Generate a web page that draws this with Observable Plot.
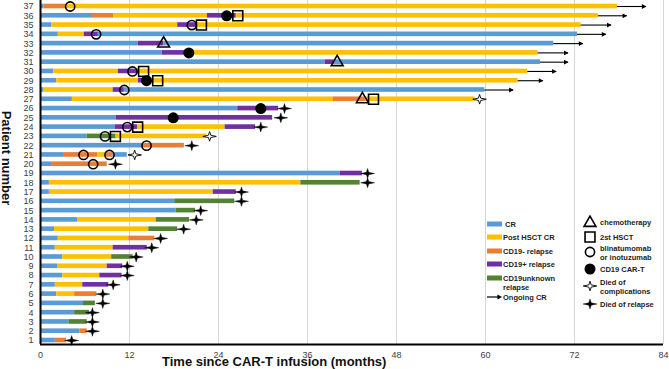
<!DOCTYPE html>
<html>
<head>
<meta charset="utf-8">
<script src="https://cdn.jsdelivr.net/npm/d3@7"></script>
<script src="https://cdn.jsdelivr.net/npm/@observablehq/plot@0.6"></script>
<style>
  body { margin: 0; background: #fff; font-family: "Liberation Sans", Arial, sans-serif; }
  #wrap { position: relative; width: 669px; height: 369px; overflow: hidden; }
  #wrap svg { position: absolute; left: 0; top: 0; }
</style>
</head>
<body>
<div id="wrap"></div>
<script>
// Disease status categories and their colours
const statuses = ["CR", "Post HSCT CR", "CD19- relapse", "CD19+ relapse", "CD19unknown relapse"];
const statusColors = ["#5b9bd5", "#ffc000", "#ed7d31", "#7030a0", "#548235"];
const patients = d3.range(1, 38);
const xTicks = [0, 12, 24, 36, 48, 60, 72, 84];

// [patient, status, start month, end month]
const phases = [
  [37,"CR",0,0.5],[37,"CD19- relapse",0.5,3.4],[37,"Post HSCT CR",3.4,77.8],
  [36,"CR",0,7.0],[36,"CD19- relapse",7.0,9.9],[36,"Post HSCT CR",9.9,22.5],[36,"CD19+ relapse",22.5,26.4],[36,"Post HSCT CR",26.4,75.2],
  [35,"CR",0,1.5],[35,"Post HSCT CR",1.5,18.5],[35,"CD19+ relapse",18.5,21.2],[35,"Post HSCT CR",21.2,72.9],
  [34,"CR",0,2.4],[34,"Post HSCT CR",2.4,5.9],[34,"CD19+ relapse",5.9,7.8],[34,"CR",7.8,72.4],
  [33,"CR",0,13.2],[33,"CD19+ relapse",13.2,16.6],[33,"CR",16.6,69.2],
  [32,"CR",0,16.4],[32,"CD19+ relapse",16.4,19.8],[32,"Post HSCT CR",19.8,67.1],
  [31,"CR",0,38.4],[31,"CD19+ relapse",38.4,39.6],[31,"CR",39.6,67.4],
  [30,"CR",0,1.8],[30,"Post HSCT CR",1.8,10.5],[30,"CD19+ relapse",10.5,13.2],[30,"Post HSCT CR",13.2,65.7],
  [29,"CR",0,2.2],[29,"Post HSCT CR",2.2,13.2],[29,"CD19+ relapse",13.2,14.3],[29,"Post HSCT CR",14.3,64.4],
  [28,"CR",0,0.4],[28,"Post HSCT CR",0.4,9.8],[28,"CD19+ relapse",9.8,11.3],[28,"CR",11.3,59.9],
  [27,"CR",0,4.3],[27,"Post HSCT CR",4.3,39.5],[27,"CD19- relapse",39.5,43.8],[27,"Post HSCT CR",43.8,58.6],
  [26,"CR",0,26.6],[26,"CD19+ relapse",26.6,32.1],
  [25,"CR",0,10.2],[25,"CD19+ relapse",10.2,31.3],
  [24,"CR",0,10.1],[24,"CD19+ relapse",10.1,13.1],[24,"Post HSCT CR",13.1,24.9],[24,"CD19+ relapse",24.9,29.0],
  [23,"CR",0,6.3],[23,"CD19unknown relapse",6.3,10.2],[23,"Post HSCT CR",10.2,22.4],
  [22,"CR",0,13.75],[22,"CD19- relapse",13.75,19.4],
  [21,"CR",0,3.1],[21,"CD19- relapse",3.1,7.7],[21,"Post HSCT CR",7.7,8.8],[21,"CD19- relapse",8.8,9.8],[21,"CR",9.8,11.7],
  [20,"CR",0,1.6],[20,"CD19- relapse",1.6,9.0],
  [19,"CR",0,40.4],[19,"CD19+ relapse",40.4,43.4],
  [18,"CR",0,1.2],[18,"Post HSCT CR",1.2,35.1],[18,"CD19unknown relapse",35.1,43.1],
  [17,"CR",0,1.2],[17,"Post HSCT CR",1.2,23.3],[17,"CD19+ relapse",23.3,26.4],
  [16,"CR",0,18.1],[16,"CD19unknown relapse",18.1,26.2],
  [15,"CR",0,18.3],[15,"CD19unknown relapse",18.3,20.9],
  [14,"CR",0,5.0],[14,"Post HSCT CR",5.0,15.6],[14,"CD19unknown relapse",15.6,20.1],
  [13,"CR",0,1.9],[13,"Post HSCT CR",1.9,14.6],[13,"CD19unknown relapse",14.6,18.5],
  [12,"CR",0,2.4],[12,"Post HSCT CR",2.4,11.9],[12,"CD19- relapse",11.9,15.4],
  [11,"CR",0,2.0],[11,"Post HSCT CR",2.0,9.8],[11,"CD19+ relapse",9.8,14.4],
  [10,"CR",0,3.0],[10,"Post HSCT CR",3.0,9.6],[10,"CD19unknown relapse",9.6,12.5],
  [9,"CR",0,2.3],[9,"Post HSCT CR",2.3,9.0],[9,"CD19+ relapse",9.0,11.1],
  [8,"CR",0,3.0],[8,"Post HSCT CR",3.0,8.0],[8,"CD19+ relapse",8.0,11.0],
  [7,"CR",0,2.0],[7,"Post HSCT CR",2.0,5.7],[7,"CD19+ relapse",5.7,9.2],
  [6,"CR",0,2.2],[6,"Post HSCT CR",2.2,4.6],[6,"CD19- relapse",4.6,7.6],
  [5,"CR",0,5.8],[5,"CD19unknown relapse",5.8,7.4],
  [4,"CR",0,4.6],[4,"CD19unknown relapse",4.6,6.6],
  [3,"CR",0,3.9],[3,"CD19unknown relapse",3.9,6.3],
  [2,"CR",0,5.3],[2,"CD19- relapse",5.3,6.3],
  [1,"CR",0,2.0],[1,"CD19- relapse",2.0,3.5]
];

// Events: [patient, month]
const chemotherapy = [[33,16.6],[31,40.0],[27,43.4]];
const secondHSCT = [[36,26.6],[35,21.7],[30,13.9],[29,15.8],[27,44.9],[24,13.1],[23,10.1]];
const blinaInotu = [[37,4.0],[35,20.4],[34,7.5],[30,12.4],[28,11.3],[24,11.7],[23,8.7],[22,14.3],[21,5.8],[21,9.3],[20,7.1]];
const carT = [[36,25.1],[32,20.0],[29,14.3],[26,29.7],[25,17.9]];
const diedComplications = [[27,59.2],[23,22.8],[21,12.7]];
const diedRelapse = [[26,32.9],[25,32.4],[24,29.7],[22,20.4],[20,10.1],[19,44.1],[18,44.1],[17,27.1],[16,27.1],
  [15,21.6],[14,21.0],[13,19.3],[12,16.2],[11,15.0],[10,12.9],[9,11.7],[8,11.7],[7,9.8],[6,8.4],[5,8.4],
  [4,7.0],[3,7.0],[2,7.0],[1,4.2]];
// Ongoing CR: [patient, last follow-up, arrow tip]
const ongoing = [[37,77.8,81.7],[36,75.2,79.1],[35,72.9,77.0],[34,72.4,76.3],[33,69.2,73.2],
  [32,67.1,71.2],[31,67.4,71.2],[30,65.7,69.6],[29,64.4,67.8],[28,59.9,63.8]];

// Four-pointed star with long horizontal arms
const star4 = {
  draw(ctx, size) {
    const r = Math.sqrt(size / Math.PI), h = 1.4 * r, v = r, i = 0.24 * r;
    ctx.moveTo(h, 0); ctx.lineTo(i, -i); ctx.lineTo(0, -v); ctx.lineTo(-i, -i);
    ctx.lineTo(-h, 0); ctx.lineTo(-i, i); ctx.lineTo(0, v); ctx.lineTo(i, i); ctx.closePath();
  }
};
// Arrowhead with its tip at the origin, pointing right
const arrowHead = {
  draw(ctx, size) {
    const r = Math.sqrt(size / Math.PI);
    ctx.moveTo(0, 0); ctx.lineTo(-1.9 * r, -r); ctx.lineTo(-1.9 * r, r); ctx.closePath();
  }
};

const yMin = 0.569, yMax = 37.647;
const half = 0.25;
const px = d => d[1], py = d => d[0];

const chart = Plot.plot({
  width: 669,
  height: 369,
  marginLeft: 40,
  marginRight: 6,
  marginTop: 0,
  marginBottom: 25,
  style: { fontFamily: "'Liberation Sans', Arial, sans-serif", fontSize: "9px", color: "#404040", background: "transparent" },
  x: { domain: [0, 84] },
  y: { domain: [yMin, yMax] },
  color: { domain: statuses, range: statusColors },
  marks: [
    Plot.gridX(xTicks, { stroke: "#d6d6d6", strokeOpacity: 1, strokeWidth: 1 }),
    Plot.axisX({ ticks: xTicks, tickSize: 0, tickPadding: 7, label: null, fill: "#404040" }),
    Plot.axisY({ ticks: patients, tickSize: 0, tickPadding: 7, label: null, tickFormat: d => d, fill: "#404040" }),
    Plot.rectX(phases, {
      x1: d => d[2], x2: d => d[3],
      y1: d => d[0] - half, y2: d => d[0] + half,
      fill: d => d[1]
    }),
    Plot.ruleY(ongoing, { y: d => d[0], x1: d => d[1], x2: d => d[2], stroke: "#000", strokeWidth: 1.1 }),
    Plot.dot(ongoing, { x: d => d[2], y: d => d[0], symbol: arrowHead, r: 2.4, fill: "#000", stroke: "none" }),
    Plot.dot(chemotherapy, { x: px, y: py, symbol: "triangle", r: 4.4, fill: "none", stroke: "#000", strokeWidth: 1.6 }),
    Plot.dot(secondHSCT, { x: px, y: py, symbol: "square", r: 5.6, fill: "none", stroke: "#000", strokeWidth: 1.6 }),
    Plot.dot(blinaInotu, { x: px, y: py, symbol: "circle", r: 4.6, fill: "none", stroke: "#000", strokeWidth: 1.6 }),
    Plot.dot(carT, { x: px, y: py, symbol: "circle", r: 5.5, fill: "#000", stroke: "none" }),
    Plot.dot(diedComplications, { x: px, y: py, symbol: star4, r: 4.8, fill: "#fff", stroke: "#000", strokeWidth: 0.9 }),
    Plot.dot(diedRelapse, { x: px, y: py, symbol: star4, r: 5, fill: "#000", stroke: "#000", strokeWidth: 0.4 }),
    Plot.ruleX([0], { stroke: "#000", strokeWidth: 2 }),
    Plot.ruleY([yMin], { stroke: "#000", strokeWidth: 2 })
  ]
});

const wrap = document.getElementById("wrap");
wrap.appendChild(chart);

// Axis titles and legend
const over = d3.select(wrap).append("svg")
  .attr("width", 669).attr("height", 369)
  .style("pointer-events", "none")
  .attr("font-family", "'Liberation Sans', Arial, sans-serif");

over.append("text")
  .attr("x", 162).attr("y", 366)
  .attr("font-size", 13).attr("font-weight", "bold").attr("fill", "#111")
  .text("Time since CAR-T infusion (months)");

over.append("text")
  .attr("transform", "translate(1.5,158) rotate(90)")
  .attr("text-anchor", "middle")
  .attr("font-size", 13).attr("font-weight", "bold").attr("fill", "#111")
  .text("Patient number");

const lg = over.append("g").attr("font-size", 7.5).attr("font-weight", "bold").attr("fill", "#222");
const swY = [224, 237, 251, 264, 278];
statuses.forEach((s, k) => {
  lg.append("rect").attr("x", 487).attr("y", swY[k] - 2.5).attr("width", 15).attr("height", 5).attr("fill", statusColors[k]);
  const lines = s === "CD19unknown relapse" ? ["CD19unknown", "relapse"] : [s];
  lines.forEach((t, j) => {
    lg.append("text").attr("x", k === 0 ? 505 : 503).attr("y", swY[k] + j * 9).attr("dy", "0.35em").text(t);
  });
});
lg.append("line").attr("x1", 487).attr("x2", 498).attr("y1", 297).attr("y2", 297).attr("stroke", "#000").attr("stroke-width", 1.2);
lg.append("path").attr("transform", "translate(502,297)")
  .attr("d", d3.symbol(arrowHead, Math.PI * 2.4 * 2.4)()).attr("fill", "#000");
lg.append("text").attr("x", 503).attr("y", 297).attr("dy", "0.35em").text("Ongoing CR");

const sym = (type, r) => d3.symbol(type, Math.PI * r * r)();
const rightItems = [
  { y: 223, d: sym(d3.symbolTriangle, 4.4), fill: "none", sw: 1.6, labels: [["chemotherapy", 222]] },
  { y: 237, d: sym(d3.symbolSquare, 5.6), fill: "none", sw: 1.6, labels: [["2st HSCT", 237]] },
  { y: 252, d: sym(d3.symbolCircle, 4.6), fill: "none", sw: 1.6, labels: [["blinatumomab", 248], ["or inotuzumab", 257]] },
  { y: 269, d: sym(d3.symbolCircle, 5.5), fill: "#000", sw: 0, labels: [["CD19 CAR-T", 269]] },
  { y: 286, d: sym(star4, 4.8), fill: "#fff", sw: 0.9, labels: [["Died of", 282], ["complications", 291]] },
  { y: 304, d: sym(star4, 5), fill: "#000", sw: 0.4, labels: [["Died of relapse", 304]] }
];
rightItems.forEach(it => {
  lg.append("path").attr("transform", `translate(590,${it.y})`).attr("d", it.d)
    .attr("fill", it.fill).attr("stroke", "#000").attr("stroke-width", it.sw);
  it.labels.forEach(([t, y]) => lg.append("text").attr("x", 600).attr("y", y).attr("dy", "0.35em").text(t));
});
</script>
</body>
</html>
